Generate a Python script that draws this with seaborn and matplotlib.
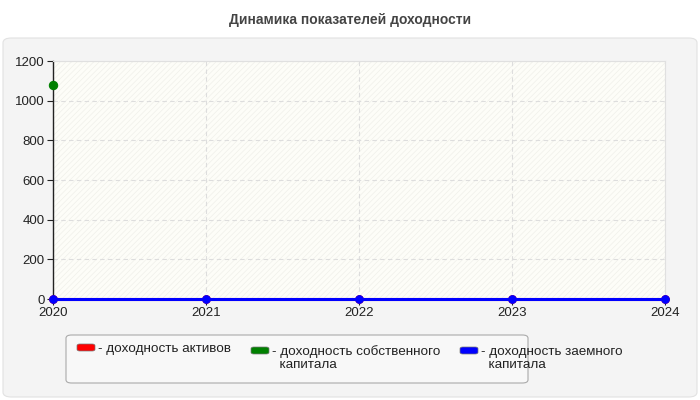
import matplotlib
matplotlib.use("Agg")
import matplotlib.pyplot as plt
import seaborn as sns
import numpy as np
import pandas as pd
from matplotlib.patches import FancyBboxPatch, Rectangle

years = [2020, 2021, 2022, 2023, 2024]
series_names = ["доходность активов", "доходность собственного\nкапитала", "доходность заемного\nкапитала"]
roa = [0, 0, 0, 0, 0]
roe = [1080, np.nan, np.nan, np.nan, np.nan]
rod = [0, 0, 0, 0, 0]
colors = ["#ff0000", "#008000", "#0000ff"]
yticks = [0, 200, 400, 600, 800, 1000, 1200]
title = "Динамика показателей доходности"

sns.set_theme(style="white")
plt.rcParams['font.family'] = ['Liberation Sans', 'DejaVu Sans']
plt.rcParams['hatch.linewidth'] = 0.5

rows = []
for name, vals in zip(series_names, [roa, roe, rod]):
    for y, v in zip(years, vals):
        rows.append({"year": y, "value": v, "series": name})
df = pd.DataFrame(rows)

fig = plt.figure(figsize=(7, 4), dpi=100, facecolor="white")
W, H = 700, 400
panel = FancyBboxPatch((3 / W, 3 / H), 694 / W, 359 / H, boxstyle="round,pad=0,rounding_size=0.012",
                       transform=fig.transFigure, facecolor="#f4f4f4", edgecolor="#e2e2e2", lw=0.8, zorder=-5)
fig.patches.append(panel)
fig.text(0.5, 1 - 20 / H, title, ha="center", va="center", fontsize=10, fontweight="bold", color="#444444")

ax = fig.add_axes([53 / W, 1 - 299 / H, 612 / W, 238 / H])
ax.set_zorder(2)
ax.set_facecolor("#fdfdf8")
ax.add_patch(Rectangle((0, 0), 1, 1, transform=ax.transAxes, facecolor="none", edgecolor="#f0f0ea",
                       hatch="//////", lw=0, zorder=0))

for name, c in zip(series_names, colors):
    sub = df[df.series == name]
    sns.lineplot(data=sub, x="year", y="value", color=c, lw=2.2, marker="o",
                 markersize=6 if c == "#008000" else 5.5,
                 markeredgecolor=c, ax=ax, legend=False, zorder=5, clip_on=False)

ax.set_xlim(2020, 2024)
ax.set_ylim(0, 1200)
ax.set_xticks(years)
ax.set_xticklabels([str(y) for y in years])
ax.set_yticks(yticks)
ax.set_xlabel("")
ax.set_ylabel("")
ax.grid(True, color="#dddddd", ls=(0, (4, 3)), lw=0.8)
ax.set_axisbelow(True)
for s in ["top", "right"]:
    ax.spines[s].set_color("#e0e0e0")
    ax.spines[s].set_linewidth(0.8)
for s in ["left", "bottom"]:
    ax.spines[s].set_color("#222222")
    ax.spines[s].set_linewidth(1.0)
ax.tick_params(axis="both", labelsize=9.5, colors="#222222", length=4, width=0.8, direction="out", pad=2)
ax.tick_params(axis="both", which="both", bottom=True, left=True)

lb = FancyBboxPatch((66 / W, 1 - 383 / H), 462 / W, 48 / H, boxstyle="round,pad=0,rounding_size=0.008",
                    transform=fig.transFigure, facecolor="#f8f8f8", edgecolor="#aaaaaa", lw=0.8, zorder=1)
fig.patches.append(lb)
xs = [77, 251, 460]
for x, c, name in zip(xs, colors, series_names):
    lines = name.split("\n")
    shift = 0 if len(lines) == 1 else 3
    fig.patches.append(FancyBboxPatch((x / W, 1 - (351 + shift) / H), 18 / W, 7 / H,
                                      boxstyle="round,pad=0,rounding_size=0.004",
                                      transform=fig.transFigure, facecolor=c, edgecolor="#777777",
                                      lw=0.5, zorder=2))
    for i, ln in enumerate(lines):
        txt = ("- " if i == 0 else "  ") + ln
        fig.text((x + 21) / W, 1 - (352 + shift + 13 * i) / H, txt, ha="left", va="baseline",
                 fontsize=9.7, color="#222222", zorder=3)

fig.savefig("out.png", dpi=100, facecolor="white")
